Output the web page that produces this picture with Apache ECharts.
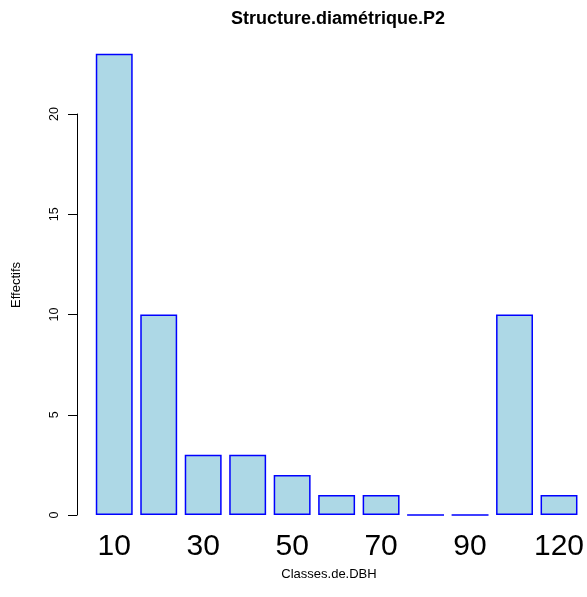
<!DOCTYPE html>
<html>
<head>
<meta charset="utf-8">
<script src="https://cdn.jsdelivr.net/npm/echarts@6/dist/echarts.min.js"></script>
<style>html,body{margin:0;padding:0;background:#fff;}#c{width:587px;height:597px;}</style>
</head>
<body>
<div id="c"></div>
<script>
const categories = ["10","20","30","40","50","60","70","80","90","100","120"];
const effectifs = [23, 10, 3, 3, 2, 1, 1, 0, 0, 10, 1];
const yTicks = [0, 5, 10, 15, 20];

const chart = echarts.init(document.getElementById('c'), null, {renderer: 'canvas'});
chart.setOption({
  animation: false,
  backgroundColor: '#ffffff',
  grid: {left: 92, right: 5, top: 114, bottom: 82, containLabel: false},
  graphic: [
    {type: 'text', style: {text: 'Structure.diamétrique.P2', x: 338, y: 19, textAlign: 'center', textVerticalAlign: 'middle', font: 'bold 18px "Liberation Sans", Arial, sans-serif', fill: '#000'}},
    {type: 'text', style: {text: 'Classes.de.DBH', x: 329, y: 574, textAlign: 'center', textVerticalAlign: 'middle', font: '13px "Liberation Sans", Arial, sans-serif', fill: '#000'}},
    {type: 'text', rotation: Math.PI / 2, x: 16, y: 285, style: {text: 'Effectifs', x: 0, y: 0, textAlign: 'center', textVerticalAlign: 'middle', font: '13px "Liberation Sans", Arial, sans-serif', fill: '#000'}}
  ],
  xAxis: {
    type: 'category',
    data: categories,
    axisLine: {show: false},
    axisTick: {show: false},
    axisLabel: {interval: 1, fontSize: 30, color: '#000', margin: 17, fontFamily: '"Liberation Sans", Arial, sans-serif'}
  },
  yAxis: {
    type: 'value',
    min: 0, max: 20, interval: 5,
    offset: 15,
    splitLine: {show: false},
    axisLine: {show: true, lineStyle: {color: '#000', width: 1}},
    axisTick: {show: true, length: 9, lineStyle: {color: '#000'}},
    axisLabel: {rotate: 90, fontSize: 12.5, color: '#000', margin: 16, fontFamily: '"Liberation Sans", Arial, sans-serif',
      formatter: v => yTicks.includes(v) ? String(v) : ''}
  },
  series: [{
    type: 'bar',
    data: effectifs,
    clip: false,
    barCategoryGap: '17%',
    itemStyle: {color: '#ADD8E6', borderColor: '#0000FF', borderWidth: 1.5}
  }]
});
</script>
</body>
</html>
